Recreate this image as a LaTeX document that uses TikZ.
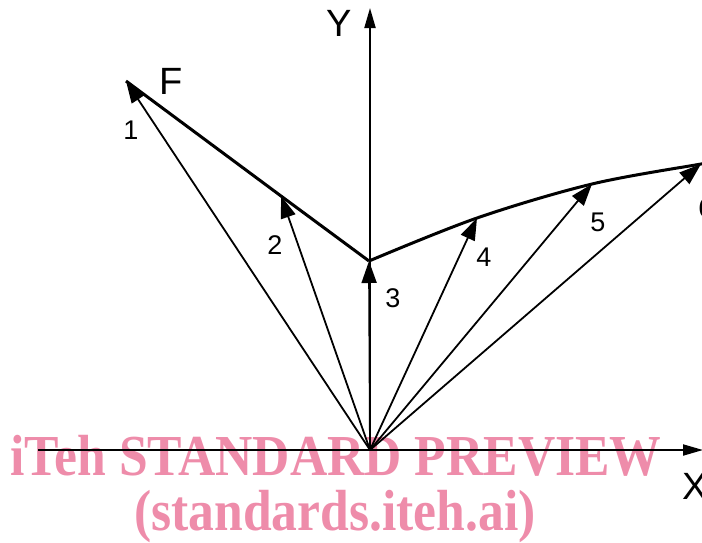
\documentclass[tikz,border=0pt]{standalone}
\usepackage{fontspec}
\setmainfont{Liberation Sans}
\newfontfamily\wmfont{Liberation Serif}
\usetikzlibrary{arrows.meta}
\definecolor{wmpink}{RGB}{238,140,170}

\begin{document}
\begin{tikzpicture}[x=1pt, y=-1pt,
    axis/.style={draw, line width=2pt, -{Triangle[length=20pt, width=11pt]}},
    vec/.style={draw, line width=1.8pt, -{Triangle[length=22pt, width=15pt]}},
    curve/.style={draw, line width=3pt, line join=round},
    num/.style={font=\fontsize{27}{27}\selectfont},
    axlabel/.style={font=\fontsize{38}{38}\selectfont},
    wmtext/.style={text=wmpink, font=\wmfont\bfseries\fontsize{58}{58}\selectfont, anchor=base, xscale=0.89}
]
\useasboundingbox (0,0) rectangle (702,542);

% watermark
\node [wmtext] (wm1) at (336,475) {iTeh STANDARD PREVIEW};
\node [wmtext] (wm2) at (335,530) {(standards.iteh.ai)};

% origin and tips of the force vectors
\coordinate (O) at (370,450);
\coordinate (xend) at (38,450);
\coordinate (xtip) at (703,450);
\coordinate (ytip) at (370,8);
\coordinate (p1) at (126,81);
\coordinate (p2) at (281,196);
\coordinate (p3) at (369,261);
\coordinate (p4) at (477,218);
\coordinate (p5) at (592,184);
\coordinate (p6) at (701,164);
\coordinate (pend) at (712,162);

% axes
\path [axis] (xend) -- (xtip);
\path [axis] (O) -- (ytip);
\node [axlabel] (ylbl) at (339,23) {Y};
\node [axlabel] (xlbl) at (695,486) {X};

% locus of F
\path [curve] (p1) -- (p2) -- (p3);
\draw [line width=3pt] plot [smooth, tension=0.55] coordinates {(p3) (p4) (p5) (p6) (pend)};
\node [axlabel] (flbl) at (171,81) {F};

% vectors
\path [vec] (O) -- (p1);
\path [vec] (O) -- (p2);
\path [vec] (O) -- (p3);
\path [vec] (O) -- (p4);
\path [vec] (O) -- (p5);
\path [vec] (O) -- (p6);

\node [num] (n1) at (131,130) {1};
\node [num] (n2) at (275,245) {2};
\node [num] (n3) at (393,298) {3};
\node [num] (n4) at (484,257) {4};
\node [num] (n5) at (598,222) {5};
\node [num] (n6) at (706,208) {6};

\end{tikzpicture}
\end{document}
